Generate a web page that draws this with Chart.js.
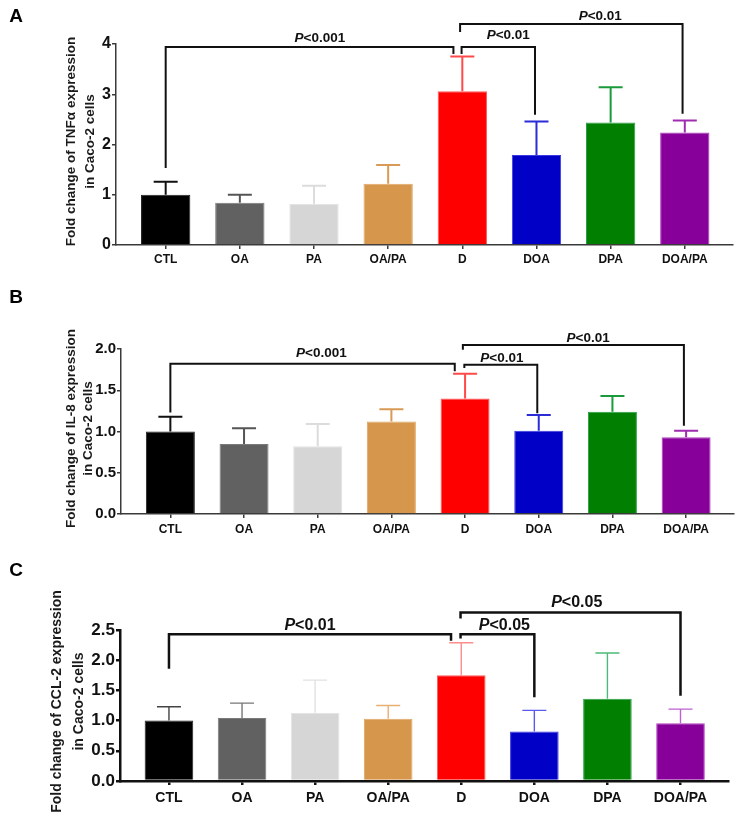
<!DOCTYPE html>
<html>
<head>
<meta charset="utf-8">
<script src="https://cdn.jsdelivr.net/npm/chart.js@4.4.1/dist/chart.umd.min.js"></script>
<style>
  body { margin: 0; background: #fff; }
  canvas { position: absolute; left: 0; }
</style>
</head>
<body>
<canvas id="chartA" width="747" height="270" style="top:0"></canvas>
<canvas id="chartB" width="747" height="270" style="top:270px"></canvas>
<canvas id="chartC" width="747" height="280" style="top:540px"></canvas>
<script>
const categories = ["CTL", "OA", "PA", "OA/PA", "D", "DOA", "DPA", "DOA/PA"];

// mean fold change and upper error (SD) per group
const tnfMean = [1.0, 0.84, 0.82, 1.22, 3.06, 1.79, 2.44, 2.24];
const tnfErr = [0.26, 0.16, 0.36, 0.37, 0.69, 0.67, 0.70, 0.24];
const il8Mean = [1.0, 0.85, 0.82, 1.12, 1.40, 1.01, 1.24, 0.93];
const il8Err = [0.18, 0.19, 0.27, 0.15, 0.30, 0.19, 0.19, 0.08];
const ccl2Mean = [1.0, 1.045, 1.13, 1.03, 1.75, 0.82, 1.36, 0.955];
const ccl2Err = [0.23, 0.245, 0.54, 0.22, 0.54, 0.35, 0.76, 0.235];

// significance brackets: from/to group index, leg ends and bar height in axis units
const tnfStats = [
  { from: 0, to: 3.88, top: 3.94, left: 1.53, right: 3.80, text: "<0.001", at: 2.08, ty: 4.12 },
  { from: 3.99, to: 4.98, top: 3.94, left: 3.80, right: 2.59, text: "<0.01", at: 4.62, ty: 4.18 },
  { from: 3.97, to: 6.97, top: 4.40, left: 4.24, right: 2.61, text: "<0.01", at: 5.86, ty: 4.56 }
];
const il8Stats = [
  { from: 0, to: 3.86, top: 1.82, left: 1.23, right: 1.73, text: "<0.001", at: 2.05, ty: 1.95 },
  { from: 3.99, to: 4.98, top: 1.81, left: 1.77, right: 1.22, text: "<0.01", at: 4.50, ty: 1.89 },
  { from: 3.97, to: 6.97, top: 2.05, left: 1.99, right: 1.07, text: "<0.01", at: 5.67, ty: 2.13 }
];
const ccl2Stats = [
  { from: 0, to: 3.86, top: 2.43, left: 1.86, right: 2.32, text: "<0.01", at: 1.93, ty: 2.57 },
  { from: 3.99, to: 5.0, top: 2.43, left: 2.36, right: 1.385, text: "<0.05", at: 4.59, ty: 2.57 },
  { from: 3.99, to: 7.0, top: 2.79, left: 2.69, right: 1.41, text: "<0.05", at: 5.58, ty: 2.95 }
];

const barColors = ["#000000", "#616161", "#d6d6d6", "#d6964c", "#ff0000", "#0000c6", "#007f00", "#88009a"];
const edgeColors = ["#222222", "#7a7a7a", "#e2e2e2", "#e0a866", "#ff5a5a", "#3a3ae0", "#2aa04a", "#b040c0"];
const errColors = ["#111111", "#555555", "#dcdcdc", "#d99a55", "#ff4a4a", "#2b2bd8", "#1a9a3a", "#9f2db0"];
const errColorsLight = ["#444444", "#777777", "#e2e2e2", "#e8b070", "#ff8c8c", "#5a5aee", "#4cbb77", "#c060d0"];

const FONT = "'Liberation Sans', Arial, sans-serif";

function pLabel(ctx, cx, cy, text, size) {
  ctx.textBaseline = "middle";
  ctx.textAlign = "left";
  ctx.font = "italic bold " + size + "px " + FONT;
  const wp = ctx.measureText("P").width;
  ctx.font = "bold " + size + "px " + FONT;
  const wr = ctx.measureText(text).width;
  const x0 = cx - (wp + wr) / 2;
  ctx.font = "italic bold " + size + "px " + FONT;
  ctx.fillText("P", x0, cy);
  ctx.font = "bold " + size + "px " + FONT;
  ctx.fillText(text, x0 + wp, cy);
}

function makePanel(id, o) {
  const canvas = document.getElementById(id);
  const ctx = canvas.getContext("2d");
  const xAxisH = 26;

  const decor = {
    id: "decor",
    afterDatasetsDraw(chart) {
      const c = chart.ctx;
      const x = chart.scales.x, y = chart.scales.y;
      c.save();
      // error bars (upper only)
      c.lineWidth = o.errWidth;
      o.means.forEach((m, i) => {
        const px = x.getPixelForValue(i);
        const y0 = y.getPixelForValue(m);
        const y1 = y.getPixelForValue(m + o.errs[i]);
        c.strokeStyle = o.errColors[i];
        c.beginPath();
        c.moveTo(px, y0);
        c.lineTo(px, y1);
        c.moveTo(px - 12, y1);
        c.lineTo(px + 12, y1);
        c.stroke();
      });
      // significance brackets
      c.strokeStyle = "#111";
      c.fillStyle = "#111";
      c.lineWidth = o.bracketWidth;
      c.lineJoin = "miter";
      o.stats.forEach(s => {
        const xa = x.getPixelForValue(s.from), xb = x.getPixelForValue(s.to);
        c.beginPath();
        c.moveTo(xa, y.getPixelForValue(s.left));
        c.lineTo(xa, y.getPixelForValue(s.top));
        c.lineTo(xb, y.getPixelForValue(s.top));
        c.lineTo(xb, y.getPixelForValue(s.right));
        c.stroke();
        pLabel(c, x.getPixelForValue(s.at), y.getPixelForValue(s.ty), s.text, o.pSize);
      });
      // y-axis title, two lines
      c.fillStyle = "#1a1a1a";
      c.textAlign = "center";
      c.textBaseline = "middle";
      c.font = "bold " + o.titleSize + "px " + FONT;
      const cy = (chart.chartArea.top + chart.chartArea.bottom) / 2 + o.titleShift;
      o.title.forEach((t, k) => {
        c.save();
        c.translate(o.titleX[k], cy);
        c.rotate(-Math.PI / 2);
        c.fillText(t, 0, 0);
        c.restore();
      });
      // panel letter
      c.font = "bold 19px " + FONT;
      c.fillStyle = "#000";
      c.fillText(o.letter, 16, o.letterY);
      c.restore();
    }
  };

  return new Chart(ctx, {
    type: "bar",
    data: {
      datasets: [{
        data: o.means.map((v, i) => ({ x: i, y: v })),
        backgroundColor: barColors,
        borderColor: edgeColors,
        borderWidth: 1,
        barPercentage: 0.665,
        categoryPercentage: 1
      }]
    },
    options: {
      responsive: false,
      animation: false,
      layout: {
        autoPadding: false,
        padding: { left: 0, right: 747 - o.area.right, top: o.area.top, bottom: canvas.height - o.area.bottom - xAxisH }
      },
      plugins: { legend: { display: false }, tooltip: { enabled: false } },
      scales: {
        x: {
          type: "linear",
          offset: false,
          min: -0.67,
          max: 7.65,
          afterBuildTicks: s => { s.ticks = categories.map((c, i) => ({ value: i })); },
          afterFit: s => { s.height = xAxisH; },
          grid: { offset: false, drawOnChartArea: false, tickLength: 4, color: o.axisColor, lineWidth: o.axisWidth },
          border: { color: o.axisColor, width: o.axisWidth },
          ticks: {
            autoSkip: false, maxRotation: 0, padding: o.xPad,
            callback: v => categories[v],
            color: "#111",
            font: { family: FONT, weight: "bold", size: o.xSize }
          }
        },
        y: {
          min: 0,
          max: o.yMax,
          afterFit: s => { s.width = o.area.left; },
          grid: { drawOnChartArea: false, tickLength: 4, color: o.axisColor, lineWidth: o.axisWidth },
          border: { color: o.axisColor, width: o.axisWidth },
          ticks: {
            stepSize: o.step, padding: 1,
            callback: v => o.step < 1 ? v.toFixed(1) : v,
            color: "#111",
            font: { family: FONT, weight: "bold", size: o.ySize }
          }
        }
      }
    },
    plugins: [decor]
  });
}

makePanel("chartA", {
  means: tnfMean, errs: tnfErr, stats: tnfStats, errColors: errColors,
  area: { left: 116, right: 733, top: 44, bottom: 245 },
  yMax: 4, step: 1, ySize: 16, xSize: 12, xPad: 3,
  axisColor: "#3a3a3a", axisWidth: 1.5, errWidth: 2, bracketWidth: 2, pSize: 13.5,
  title: ["Fold change of TNF\u03b1 expression", "in Caco-2 cells"], titleX: [71, 90], titleShift: -3, titleSize: 13.5,
  letter: "A", letterY: 17
});

makePanel("chartB", {
  means: il8Mean, errs: il8Err, stats: il8Stats, errColors: errColors,
  area: { left: 121, right: 734, top: 79, bottom: 244 },
  yMax: 2, step: 0.5, ySize: 15, xSize: 12, xPad: 4,
  axisColor: "#3a3a3a", axisWidth: 1.5, errWidth: 2, bracketWidth: 2, pSize: 13.5,
  title: ["Fold change of IL-8 expression", "in Caco-2 cells"], titleX: [71, 88], titleShift: -3, titleSize: 13.5,
  letter: "B", letterY: 28
});

makePanel("chartC", {
  means: ccl2Mean, errs: ccl2Err, stats: ccl2Stats, errColors: errColorsLight,
  area: { left: 120, right: 728, top: 90, bottom: 241 },
  yMax: 2.5, step: 0.5, ySize: 17, xSize: 14, xPad: 5,
  axisColor: "#111111", axisWidth: 2.5, errWidth: 1.4, bracketWidth: 2.5, pSize: 16,
  title: ["Fold change of CCL-2 expression", "in Caco-2 cells"], titleX: [57, 79], titleShift: -4, titleSize: 14,
  letter: "C", letterY: 31
});
</script>
</body>
</html>
